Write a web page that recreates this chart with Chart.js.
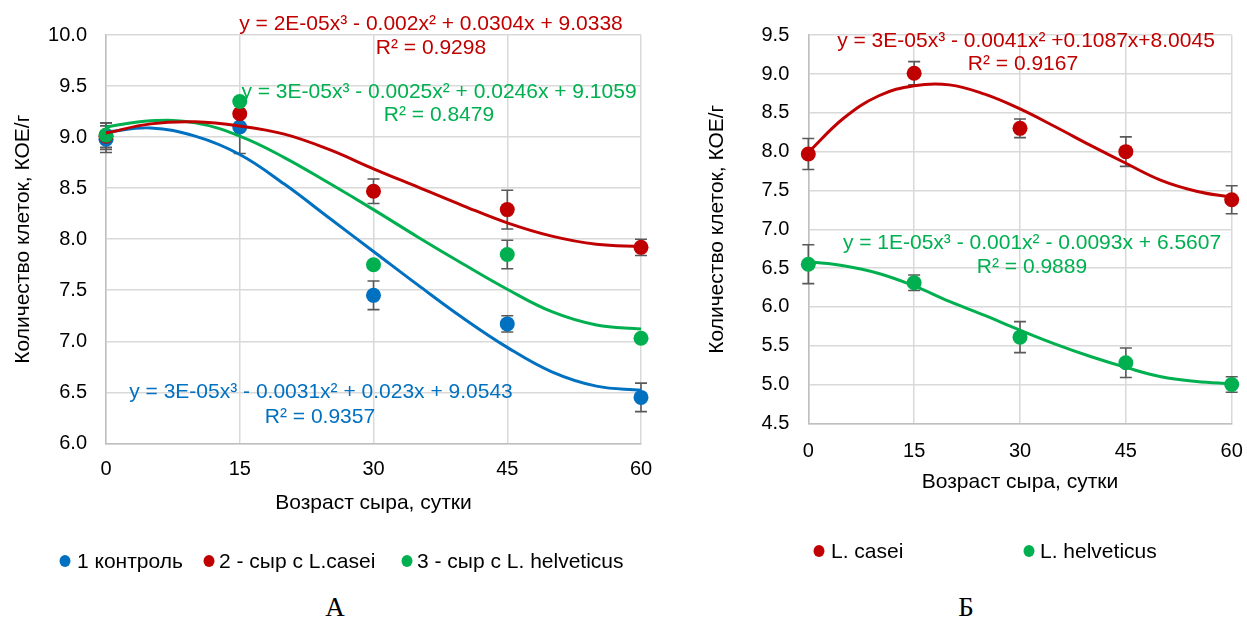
<!DOCTYPE html>
<html>
<head>
<meta charset="utf-8">
<script src="https://cdn.jsdelivr.net/npm/chart.js@4.4.0/dist/chart.umd.min.js"></script>
<style>
body{margin:0;background:#fff;width:1247px;height:619px;overflow:hidden;position:relative}
.box{position:absolute;top:0;height:590px}
#boxA{left:0;width:660px}
#boxB{left:660px;width:587px}
.cap{position:absolute;top:591px;line-height:32px;font-family:"Liberation Serif","Times New Roman",serif;font-size:27px;color:#000;transform:translateX(-50%)}
</style>
</head>
<body>
<div class="box" id="boxA"><canvas id="chartA"></canvas></div>
<div class="box" id="boxB"><canvas id="chartB"></canvas></div>
<div class="cap" style="left:335px">А</div>
<div class="cap" style="left:966px">Б</div>
<script>
// Data
const days=[0,15,30,45,60];
const trendDays=[0,5,10,15,20,25,30,35,40,45,50,55,60];

// chart A
const controlA=[8.98,9.10,7.45,7.17,6.45];
const controlErrA=[0.13,0.26,0.14,0.08,0.14];
const caseiA=[9.01,9.23,8.47,8.29,7.92];
const caseiErrA=[0.13,0.03,0.12,0.19,0.08];
const helvA=[9.02,9.35,7.75,7.85,7.03];
const helvErrA=[0.12,0.03,0.03,0.14,0.03];
const controlTrendA=[9.05,9.09,9.01,8.83,8.54,8.21,7.88,7.55,7.23,6.94,6.70,6.56,6.52];
const caseiTrendA=[9.04,9.13,9.15,9.11,9.03,8.88,8.69,8.51,8.33,8.16,8.03,7.95,7.93];
const helvTrendA=[9.10,9.16,9.14,9.01,8.80,8.55,8.29,8.02,7.76,7.51,7.29,7.16,7.12];
const namesA=["1 контроль","2 - сыр с L.casei","3 - сыр с L. helveticus"];
const eqA=[
["y = 2E-05x³ - 0.002x² + 0.0304x + 9.0338","R² = 0.9298"],
["y = 3E-05x³ - 0.0025x² + 0.0246x + 9.1059","R² = 0.8479"],
["y = 3E-05x³ - 0.0031x² + 0.023x + 9.0543","R² = 0.9357"]
];
const yTicksA=[6,10,0.5];

// chart B
const caseiB=[7.97,9.01,8.30,8.00,7.38];
const caseiErrB=[0.20,0.15,0.12,0.19,0.18];
const helvB=[6.55,6.31,5.61,5.28,5.00];
const helvErrB=[0.25,0.10,0.20,0.19,0.10];
const caseiTrendB=[7.99,8.43,8.72,8.85,8.86,8.74,8.55,8.32,8.08,7.85,7.63,7.49,7.41];
const helvTrendB=[6.58,6.53,6.43,6.27,6.07,5.89,5.70,5.52,5.36,5.22,5.10,5.04,5.01];
const namesB=["L. casei","L. helveticus"];
const eqB=[
["y = 3E-05x³ - 0.0041x² +0.1087x+8.0045","R² = 0.9167"],
["y = 1E-05x³ - 0.001x² - 0.0093x + 6.5607","R² = 0.9889"]
];
const yTicksB=[4.5,9.5,0.5];

const xTitle="Возраст сыра, сутки";
const yTitle="Количество клеток, КОЕ/г";

const BLUE="#0070c0",RED="#c00000",GREEN="#00b050";
const FONT='"Liberation Sans", Arial, sans-serif';

Chart.defaults.font.family=FONT;
Chart.defaults.font.size=20;
Chart.defaults.color="#000";

function pts(xs,ys){return xs.map((x,i)=>({x:x,y:ys[i]}));}

function pointSet(label,ys,err,color,order){
return {label:label,data:pts(days,ys),errors:err,backgroundColor:color,borderColor:color,
pointRadius:7.5,pointHoverRadius:7.5,borderWidth:0,showLine:false,order:order,clip:false};
}
function trendSet(ys,color){
return {data:pts(trendDays,ys),borderColor:color,borderWidth:3,pointRadius:0,showLine:true,tension:0.4,order:1,fill:false,clip:false};
}

// error bars, equations, legend
const notes={
id:"notes",
beforeDatasetsDraw(chart,args,opts){
const ctx=chart.ctx,xs=chart.scales.x,ys=chart.scales.y;
ctx.save();
ctx.strokeStyle="#595959";ctx.lineWidth=1.6;
chart.data.datasets.forEach(ds=>{
if(!ds.errors) return;
ds.data.forEach((p,i)=>{
const e=ds.errors[i];
const px=xs.getPixelForValue(p.x);
const y1=ys.getPixelForValue(p.y+e),y2=ys.getPixelForValue(p.y-e);
ctx.beginPath();
ctx.moveTo(px,y1);ctx.lineTo(px,y2);
ctx.moveTo(px-6,y1);ctx.lineTo(px+6,y1);
ctx.moveTo(px-6,y2);ctx.lineTo(px+6,y2);
ctx.stroke();
});
});
ctx.restore();
},
afterDraw(chart,args,opts){
const ctx=chart.ctx;
ctx.save();
ctx.font="21px "+FONT;
ctx.textBaseline="middle";
ctx.textAlign="center";
opts.eqs.forEach(q=>{
ctx.fillStyle=q.color;
q.lines.forEach((t,i)=>ctx.fillText(t,q.x[i],q.y[i]));
});
ctx.textAlign="left";
opts.legend.forEach(l=>{
ctx.fillStyle=l.color;
ctx.beginPath();
ctx.ellipse(l.mx,l.y,5.5,6,0,0,Math.PI*2);
ctx.fill();
ctx.fillStyle="#000";
ctx.fillText(l.text,l.tx,l.y+1);
});
ctx.restore();
}
};

function makeChart(id,datasets,yT,geo,eqs,legend){
return new Chart(document.getElementById(id),{
type:"scatter",
data:{datasets:datasets},
options:{
responsive:true,maintainAspectRatio:false,animation:false,
layout:{padding:{left:0,top:geo.top,right:geo.right,bottom:0}},
plugins:{legend:{display:false},tooltip:{enabled:false},notes:{eqs:eqs,legend:legend}},
scales:{
x:{type:"linear",min:0,max:60,
ticks:{stepSize:15,padding:0,font:{size:20}},
grid:{color:"#d9d9d9",lineWidth:1.5,drawTicks:true,tickLength:geo.xPad,tickColor:"rgba(0,0,0,0)"},
border:{color:"#bfbfbf",width:1.5},
title:{display:true,text:xTitle,font:{size:21},padding:{top:0,bottom:geo.xTitlePad}},
afterFit:s=>{s.height=geo.xH;}},
y:{min:yT[0],max:yT[1],
ticks:{stepSize:yT[2],padding:19,font:{size:20},callback:v=>v.toFixed(1)},
grid:{color:"#d9d9d9",lineWidth:1.5,drawTicks:false},
border:{color:"#bfbfbf",width:1.5},
title:{display:true,text:yTitle,font:{size:21},padding:{top:geo.yTitlePad,bottom:0}},
afterFit:s=>{s.width=geo.yW;}}
}
},
plugins:[notes]
});
}

makeChart("chartA",[
pointSet(namesA[2],helvA,helvErrA,GREEN,2),
pointSet(namesA[1],caseiA,caseiErrA,RED,3),
pointSet(namesA[0],controlA,controlErrA,BLUE,4),
trendSet(caseiTrendA,RED),
trendSet(helvTrendA,GREEN),
trendSet(controlTrendA,BLUE)
],yTicksA,
{top:35.1,right:19,xH:146.7,yW:106,xPad:13.7,xTitlePad:74.4,yTitlePad:10.9},
[
{lines:eqA[0],color:RED,x:[431,431],y:[24,48]},
{lines:eqA[1],color:GREEN,x:[439,439],y:[92,115]},
{lines:eqA[2],color:BLUE,x:[321,320],y:[392,417]}
],
[
{text:namesA[0],color:BLUE,mx:65,tx:77,y:561},
{text:namesA[1],color:RED,mx:209,tx:219,y:561},
{text:namesA[2],color:GREEN,mx:407,tx:417,y:561}
]);

makeChart("chartB",[
pointSet(namesB[0],caseiB,caseiErrB,RED,2),
pointSet(namesB[1],helvB,helvErrB,GREEN,3),
trendSet(caseiTrendB,RED),
trendSet(helvTrendB,GREEN)
],yTicksB,
{top:35.2,right:15.3,xH:166.7,yW:148.3,xPad:15.7,xTitlePad:95.4,yTitlePad:44.4},
[
{lines:eqB[0],color:RED,x:[366,363],y:[41,64]},
{lines:eqB[1],color:GREEN,x:[372,372],y:[243,267]}
],
[
{text:namesB[0],color:RED,mx:159,tx:171,y:551},
{text:namesB[1],color:GREEN,mx:369,tx:380,y:551}
]);
</script>
</body>
</html>
